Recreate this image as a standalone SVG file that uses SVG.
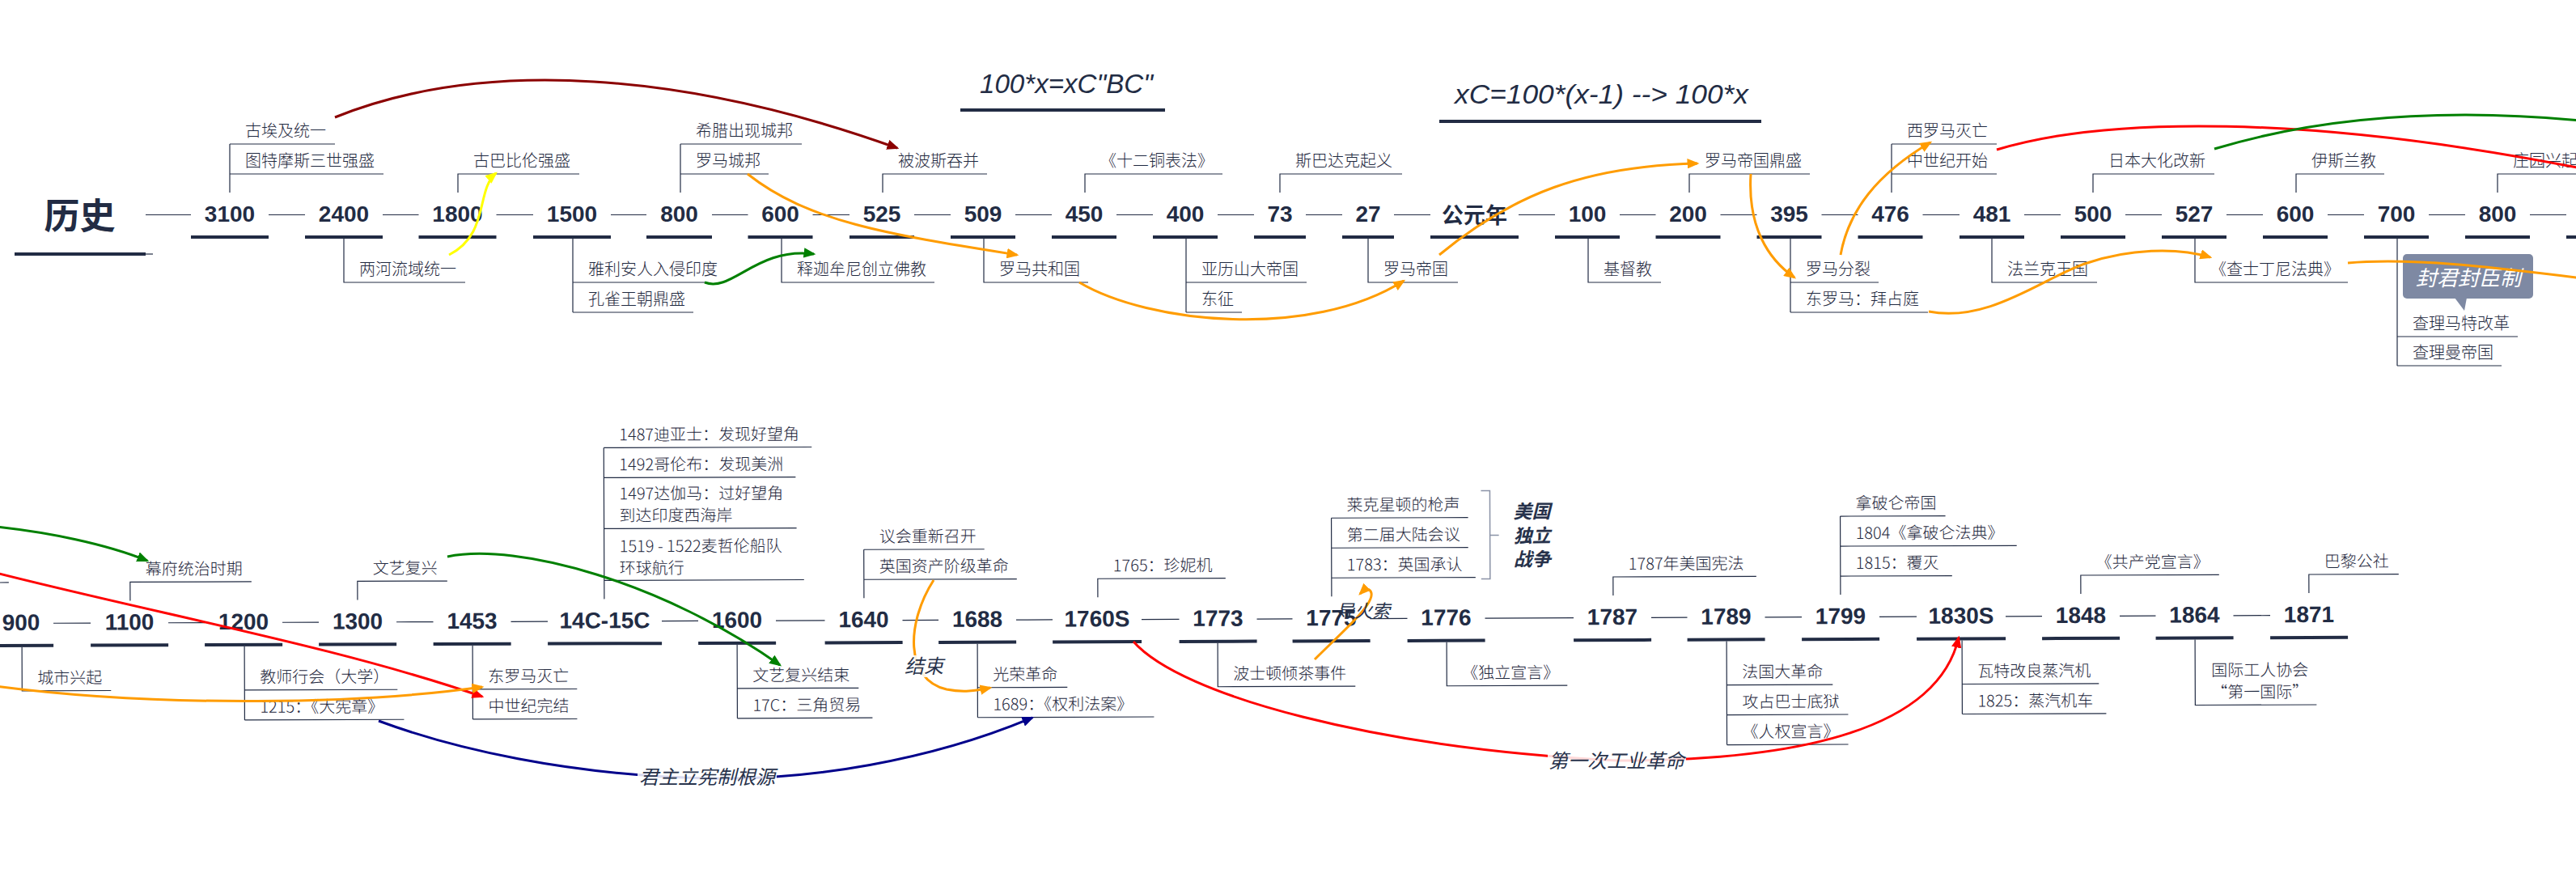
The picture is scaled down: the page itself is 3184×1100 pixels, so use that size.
<svg xmlns="http://www.w3.org/2000/svg" width="3184" height="1100" viewBox="0 0 3184 1100">
<style>
.bar{fill:#222c44}
.num{font-family:"Liberation Sans","Noto Sans CJK SC",sans-serif;font-weight:bold;font-size:28px;fill:#222c44;text-anchor:middle}
.ttl{font-family:"Noto Sans CJK SC",sans-serif;font-weight:bold;font-size:44px;fill:#222c44;text-anchor:middle}
.ln{fill:none;stroke:#222c44;stroke-width:1.2}
.lb{font-family:"Noto Sans CJK SC","Liberation Sans",sans-serif;font-weight:300;font-size:20px;fill:#1f2940}
.c{fill:none;stroke-width:3}
.cl{font-family:"Noto Sans CJK SC",sans-serif;font-style:italic;font-size:24px;fill:#27324b;text-anchor:middle}
.fx{font-family:"Liberation Sans",sans-serif;font-style:italic;font-size:34px;fill:#222c44}
.sm{font-family:"Noto Sans CJK SC",sans-serif;font-style:italic;font-weight:bold;font-size:23px;fill:#27324b}
.lbg{fill:#ffffff;opacity:0.85}
</style>
<defs>
<marker id="ao" viewBox="0 0 12 10" refX="10" refY="5" markerWidth="15" markerHeight="12.5" markerUnits="userSpaceOnUse" orient="auto"><path d="M0,0L12,5L0,10z" fill="#ff9c00"/></marker>
<marker id="ar" viewBox="0 0 12 10" refX="10" refY="5" markerWidth="15" markerHeight="12.5" markerUnits="userSpaceOnUse" orient="auto"><path d="M0,0L12,5L0,10z" fill="#ff0000"/></marker>
<marker id="ag" viewBox="0 0 12 10" refX="10" refY="5" markerWidth="15" markerHeight="12.5" markerUnits="userSpaceOnUse" orient="auto"><path d="M0,0L12,5L0,10z" fill="#008000"/></marker>
<marker id="ad" viewBox="0 0 12 10" refX="10" refY="5" markerWidth="15" markerHeight="12.5" markerUnits="userSpaceOnUse" orient="auto"><path d="M0,0L12,5L0,10z" fill="#8b0000"/></marker>
<marker id="ay" viewBox="0 0 12 10" refX="10" refY="5" markerWidth="15" markerHeight="12.5" markerUnits="userSpaceOnUse" orient="auto"><path d="M0,0L12,5L0,10z" fill="#ffff00"/></marker>
<marker id="ab" viewBox="0 0 12 10" refX="10" refY="5" markerWidth="15" markerHeight="12.5" markerUnits="userSpaceOnUse" orient="auto"><path d="M0,0L12,5L0,10z" fill="#00008b"/></marker>
</defs>
<rect width="3184" height="1100" fill="#ffffff"/>

<g id="formula1"><text class="fx" x="1211" y="115" textLength="214" lengthAdjust="spacingAndGlyphs">100*x=xC"BC"</text><rect class="bar" x="1187" y="134" width="253" height="4"/></g>
<g id="formula2"><text class="fx" x="1798" y="128" textLength="363" lengthAdjust="spacingAndGlyphs">xC=100*(x-1) --&gt; 100*x</text><rect class="bar" x="1779" y="148" width="398" height="4"/></g>

<g id="row1">
<path class="ln" d="M180,265.5H236M332,265.5H377M473,265.5H517.5M613.5,265.5H659M755,265.5H799M880,265.5H924.5M1004.5,265.5H1050M1130,265.5H1175M1255,265.5H1300M1380,265.5H1425M1505,265.5H1550M1614,265.5H1659M1723,265.5H1768M1877,265.5H1922M2002,265.5H2046.5M2126.5,265.5H2171.5M2251.5,265.5H2296.5M2376.5,265.5H2422M2502,265.5H2547M2627,265.5H2672M2752,265.5H2797M2877,265.5H2922M3002,265.5H3047M3127,265.5H3172"/>
<g id="n-root"><rect class="bar" x="18" y="312" width="162" height="4"/><path class="ln" d="M180,314H189"/><text class="ttl" x="98.5" y="283">历史</text></g>
<g id="n3100"><rect class="bar" x="236" y="291" width="96" height="4"/><text class="num" x="284" y="274">3100</text><path class="ln" d="M284,238V178M284,215H474M284,178H414"/><text class="lb" x="303" y="206">图特摩斯三世强盛</text><text class="lb" x="303" y="169">古埃及统一</text></g>
<g id="n2400"><rect class="bar" x="377" y="291" width="96" height="4"/><text class="num" x="425" y="274">2400</text><path class="ln" d="M425,295V349H575"/><text class="lb" x="444" y="340">两河流域统一</text></g>
<g id="n1800"><rect class="bar" x="517.5" y="291" width="96" height="4"/><text class="num" x="565.5" y="274">1800</text><path class="ln" d="M566,238V215H716"/><text class="lb" x="585" y="206">古巴比伦强盛</text></g>
<g id="n1500"><rect class="bar" x="659" y="291" width="96" height="4"/><text class="num" x="707" y="274">1500</text><path class="ln" d="M708,295V386M708,349H872M708,386H857"/><text class="lb" x="727" y="340">雅利安人入侵印度</text><text class="lb" x="727" y="377">孔雀王朝鼎盛</text></g>
<g id="n800bc"><rect class="bar" x="799" y="291" width="81" height="4"/><text class="num" x="839.5" y="274">800</text><path class="ln" d="M841,238V178M841,215H950M841,178H991"/><text class="lb" x="860" y="206">罗马城邦</text><text class="lb" x="860" y="169">希腊出现城邦</text></g>
<g id="n600bc"><rect class="bar" x="924.5" y="291" width="80" height="4"/><text class="num" x="964.5" y="274">600</text><path class="ln" d="M966,295V349H1155"/><text class="lb" x="985" y="340">释迦牟尼创立佛教</text></g>
<g id="n525"><rect class="bar" x="1050" y="291" width="80" height="4"/><text class="num" x="1090" y="274">525</text><path class="ln" d="M1091,238V215H1220"/><text class="lb" x="1110" y="206">被波斯吞并</text></g>
<g id="n509"><rect class="bar" x="1175" y="291" width="80" height="4"/><text class="num" x="1215" y="274">509</text><path class="ln" d="M1216,295V349H1345"/><text class="lb" x="1235" y="340">罗马共和国</text></g>
<g id="n450"><rect class="bar" x="1300" y="291" width="80" height="4"/><text class="num" x="1340" y="274">450</text><path class="ln" d="M1341,238V215H1511"/><text class="lb" x="1360" y="206">《十二铜表法》</text></g>
<g id="n400"><rect class="bar" x="1425" y="291" width="80" height="4"/><text class="num" x="1465" y="274">400</text><path class="ln" d="M1466,295V386M1466,349H1615M1466,386H1535"/><text class="lb" x="1485" y="340">亚历山大帝国</text><text class="lb" x="1485" y="377">东征</text></g>
<g id="n73"><rect class="bar" x="1550" y="291" width="64" height="4"/><text class="num" x="1582" y="274">73</text><path class="ln" d="M1582,238V215H1733"/><text class="lb" x="1601" y="206">斯巴达克起义</text></g>
<g id="n27"><rect class="bar" x="1659" y="291" width="64" height="4"/><text class="num" x="1691" y="274">27</text><path class="ln" d="M1691,295V349H1802"/><text class="lb" x="1710" y="340">罗马帝国</text></g>
<g id="n0"><rect class="bar" x="1768" y="291" width="109" height="4"/><text class="num" x="1822.5" y="276" style="font-size:27px">公元年</text></g>
<g id="n100"><rect class="bar" x="1922" y="291" width="80" height="4"/><text class="num" x="1962" y="274">100</text><path class="ln" d="M1963,295V349H2053"/><text class="lb" x="1982" y="340">基督教</text></g>
<g id="n200"><rect class="bar" x="2046.5" y="291" width="80" height="4"/><text class="num" x="2086.5" y="274">200</text><path class="ln" d="M2088,238V215H2237"/><text class="lb" x="2107" y="206">罗马帝国鼎盛</text></g>
<g id="n395"><rect class="bar" x="2171.5" y="291" width="80" height="4"/><text class="num" x="2211.5" y="274">395</text><path class="ln" d="M2213,295V386M2213,349H2322M2213,386H2383"/><text class="lb" x="2232" y="340">罗马分裂</text><text class="lb" x="2232" y="377">东罗马：拜占庭</text></g>
<g id="n476"><rect class="bar" x="2296.5" y="291" width="80" height="4"/><text class="num" x="2336.5" y="274">476</text><path class="ln" d="M2338,238V178M2338,215H2468M2338,178H2468"/><text class="lb" x="2357" y="206">中世纪开始</text><text class="lb" x="2357" y="169">西罗马灭亡</text></g>
<g id="n481"><rect class="bar" x="2422" y="291" width="80" height="4"/><text class="num" x="2462" y="274">481</text><path class="ln" d="M2462,295V349H2592"/><text class="lb" x="2481" y="340">法兰克王国</text></g>
<g id="n500"><rect class="bar" x="2547" y="291" width="80" height="4"/><text class="num" x="2587" y="274">500</text><path class="ln" d="M2587,238V215H2737"/><text class="lb" x="2606" y="206">日本大化改新</text></g>
<g id="n527"><rect class="bar" x="2672" y="291" width="80" height="4"/><text class="num" x="2712" y="274">527</text><path class="ln" d="M2713,295V349H2902"/><text class="lb" x="2732" y="340">《查士丁尼法典》</text></g>
<g id="n600ad"><rect class="bar" x="2797" y="291" width="80" height="4"/><text class="num" x="2837" y="274">600</text><path class="ln" d="M2838,238V215H2947"/><text class="lb" x="2857" y="206">伊斯兰教</text></g>
<g id="n700"><rect class="bar" x="2922" y="291" width="80" height="4"/><text class="num" x="2962" y="274">700</text><path class="ln" d="M2963,295V452M2963,416H3112M2963,452H3092"/><text class="lb" x="2982" y="407">查理马特改革</text><text class="lb" x="2982" y="443">查理曼帝国</text>
<g id="callout"><rect x="2970" y="314" width="161" height="55" rx="5" fill="#7e89a3"/><path d="M3034,368L3049,368L3046,384z" fill="#7e89a3"/><text x="3051" y="353" text-anchor="middle" font-family="Noto Sans CJK SC, sans-serif" font-style="italic" font-size="26" fill="#ffffff">封君封臣制</text></g></g>
<g id="n800ad"><rect class="bar" x="3047" y="291" width="80" height="4"/><text class="num" x="3087" y="274">800</text><path class="ln" d="M3087,238V215H3190"/><text class="lb" x="3106" y="206">庄园兴起</text></g>
<g id="n900ad"><rect class="bar" x="3172" y="291" width="20" height="4"/></g>
</g>

<g id="row2" transform="rotate(-0.2 1427 765) translate(0 500)">
<path class="ln" d="M66,265.5H112M208,265.5H253M349,265.5H394M490,265.5H535.5M631.5,265.5H677M818,265.5H863M959,265.5H1019.5M1115.5,265.5H1160M1256,265.5H1301M1411,265.5H1457.5M1553.5,265.5H1597.5M1693.5,265.5H1739.5M1835.5,265.5H1945M2041,265.5H2085.5M2181.5,265.5H2227M2323,265.5H2369M2479,265.5H2524M2620,265.5H2664.5M2760.5,265.5H2806"/>
<g id="n900"><rect class="bar" x="-14" y="291" width="80" height="4"/><text class="num" x="26" y="274">900</text><path class="ln" d="M27,295V349H137M-5,215H11"/><text class="lb" x="46" y="340">城市兴起</text></g>
<g id="n1100"><rect class="bar" x="112" y="291" width="96" height="4"/><text class="num" x="160" y="274">1100</text><path class="ln" d="M161,238V215H311"/><text class="lb" x="180" y="206">幕府统治时期</text></g>
<g id="n1200"><rect class="bar" x="253" y="291" width="96" height="4"/><text class="num" x="301" y="274">1200</text><path class="ln" d="M302,295V386M302,349H491M302,386H499"/><text class="lb" x="321" y="340">教师行会（大学）</text><text class="lb" x="321" y="377">1215：《大宪章》</text></g>
<g id="n1300"><rect class="bar" x="394" y="291" width="96" height="4"/><text class="num" x="442" y="274">1300</text><path class="ln" d="M442,238V215H553"/><text class="lb" x="461" y="206">文艺复兴</text></g>
<g id="n1453"><rect class="bar" x="535.5" y="291" width="96" height="4"/><text class="num" x="583.5" y="274">1453</text><path class="ln" d="M584,295V386M584,349H713M584,386H713"/><text class="lb" x="603" y="340">东罗马灭亡</text><text class="lb" x="603" y="377">中世纪完结</text></g>
<g id="n14c"><rect class="bar" x="677" y="291" width="141" height="4"/><text class="num" x="747.5" y="274">14C-15C</text><path class="ln" d="M747,238V51M747,215H994M747,151H985M747,88H984M747,51H1004"/><text class="lb" x="766" y="42">1487迪亚士：发现好望角</text><text class="lb" x="766" y="79">1492哥伦布：发现美洲</text><text class="lb" x="766" y="115">1497达伽马：过好望角</text><text class="lb" x="766" y="142">到达印度西海岸</text><text class="lb" x="766" y="180">1519 - 1522麦哲伦船队</text><text class="lb" x="766" y="207">环球航行</text></g>
<g id="n1600"><rect class="bar" x="863" y="291" width="96" height="4"/><text class="num" x="911" y="274">1600</text><path class="ln" d="M911,295V386M911,349H1061M911,386H1078"/><text class="lb" x="930" y="340">文艺复兴结束</text><text class="lb" x="930" y="377">17C：三角贸易</text></g>
<g id="n1640"><rect class="bar" x="1019.5" y="291" width="96" height="4"/><text class="num" x="1067.5" y="274">1640</text><path class="ln" d="M1068,238V178M1068,215H1257M1068,178H1217"/><text class="lb" x="1087" y="206">英国资产阶级革命</text><text class="lb" x="1087" y="169">议会重新召开</text></g>
<g id="n1688"><rect class="bar" x="1160" y="291" width="96" height="4"/><text class="num" x="1208" y="274">1688</text><path class="ln" d="M1208,295V386M1208,349H1319M1208,386H1426"/><text class="lb" x="1227" y="340">光荣革命</text><text class="lb" x="1227" y="377">1689：《权利法案》</text></g>
<g id="n1760s"><rect class="bar" x="1301" y="291" width="110" height="4"/><text class="num" x="1356" y="274">1760S</text><path class="ln" d="M1357,238V215H1515"/><text class="lb" x="1376" y="206">1765：珍妮机</text></g>
<g id="n1773"><rect class="bar" x="1457.5" y="291" width="96" height="4"/><text class="num" x="1505.5" y="274">1773</text><path class="ln" d="M1505,295V349H1675"/><text class="lb" x="1524" y="340">波士顿倾茶事件</text></g>
<g id="n1775"><rect class="bar" x="1597.5" y="291" width="96" height="4"/><text class="num" x="1645.5" y="274">1775</text><path class="ln" d="M1646,238V141M1646,215H1824M1646,178H1815M1646,141H1815"/><text class="lb" x="1665" y="206">1783：英国承认</text><text class="lb" x="1665" y="169">第二届大陆会议</text><text class="lb" x="1665" y="132">莱克星顿的枪声</text>
<g id="summary"><path d="M1831,108H1842V217H1831M1842,163H1853" fill="none" stroke="#8a92a6" stroke-width="1.5"/><text class="sm" x="1871" y="142">美国</text><text class="sm" x="1871" y="172">独立</text><text class="sm" x="1871" y="201">战争</text></g></g>
<g id="n1776"><rect class="bar" x="1739.5" y="291" width="96" height="4"/><text class="num" x="1787.5" y="274">1776</text><path class="ln" d="M1788,295V349H1937"/><text class="lb" x="1807" y="340">《独立宣言》</text></g>
<g id="n1787"><rect class="bar" x="1945" y="291" width="96" height="4"/><text class="num" x="1993" y="274">1787</text><path class="ln" d="M1994,238V215H2171"/><text class="lb" x="2013" y="206">1787年美国宪法</text></g>
<g id="n1789"><rect class="bar" x="2085.5" y="291" width="96" height="4"/><text class="num" x="2133.5" y="274">1789</text><path class="ln" d="M2134,295V423M2134,349H2265M2134,386H2284M2134,423H2284"/><text class="lb" x="2153" y="340">法国大革命</text><text class="lb" x="2153" y="377">攻占巴士底狱</text><text class="lb" x="2153" y="414">《人权宣言》</text></g>
<g id="n1799"><rect class="bar" x="2227" y="291" width="96" height="4"/><text class="num" x="2275" y="274">1799</text><path class="ln" d="M2275,238V141M2275,215H2413M2275,178H2493M2275,141H2405"/><text class="lb" x="2294" y="206">1815：覆灭</text><text class="lb" x="2294" y="169">1804《拿破仑法典》</text><text class="lb" x="2294" y="132">拿破仑帝国</text></g>
<g id="n1830s"><rect class="bar" x="2369" y="291" width="110" height="4"/><text class="num" x="2424" y="274">1830S</text><path class="ln" d="M2425,295V386M2425,349H2594M2425,386H2603"/><text class="lb" x="2444" y="340">瓦特改良蒸汽机</text><text class="lb" x="2444" y="377">1825：蒸汽机车</text></g>
<g id="n1848"><rect class="bar" x="2524" y="291" width="96" height="4"/><text class="num" x="2572" y="274">1848</text><path class="ln" d="M2572,238V215H2743"/><text class="lb" x="2591" y="206">《共产党宣言》</text></g>
<g id="n1864"><rect class="bar" x="2664.5" y="291" width="96" height="4"/><text class="num" x="2712.5" y="274">1864</text><path class="ln" d="M2713,295V376H2863"/><text class="lb" x="2793" y="340" text-anchor="middle">国际工人协会</text><text class="lb" x="2793" y="367" text-anchor="middle">“第一国际”</text></g>
<g id="n1871"><rect class="bar" x="2806" y="291" width="96" height="4"/><text class="num" x="2854" y="274">1871</text><path class="ln" d="M2854,238V215H2965"/><text class="lb" x="2873" y="206">巴黎公社</text></g>
</g>

<g id="connectors">
<path class="c" stroke="#8b0000" d="M414,145C600,70 850,90 1109,183" marker-end="url(#ad)"/>
<path class="c" stroke="#ffff00" stroke-width="2.5" d="M555,315C605,290 588,235 613,214" marker-end="url(#ay)"/>
<path class="c" stroke="#008000" d="M871,349C905,362 935,305 1006,314" marker-end="url(#ag)"/>
<path class="c" stroke="#ff9c00" d="M924,215C1000,275 1100,290 1257,315" marker-end="url(#ao)"/>
<path class="c" stroke="#ff9c00" d="M1334,349C1420,400 1620,420 1735,347" marker-end="url(#ao)"/>
<path class="c" stroke="#ff9c00" d="M1779,315C1870,240 1960,205 2098,202" marker-end="url(#ao)"/>
<path class="c" stroke="#ff9c00" d="M2164,215C2160,280 2185,320 2218,343" marker-end="url(#ao)"/>
<path class="c" stroke="#ff9c00" d="M2275,315C2285,260 2320,215 2386,176" marker-end="url(#ao)"/>
<path class="c" stroke="#ff9c00" d="M2384,385C2460,400 2530,340 2580,325C2630,308 2690,305 2732,318" marker-end="url(#ao)"/>
<path class="c" stroke="#ff9c00" d="M2902,325C2980,318 3080,330 3200,345"/>
<path class="c" stroke="#ff0000" d="M2468,185C2600,145 2850,140 3200,210"/>
<path class="c" stroke="#008000" d="M2737,184C2850,150 3000,130 3200,150"/>
<path class="c" stroke="#008000" d="M-5,651C60,658 130,672 182,693" marker-end="url(#ag)"/>
<path class="c" stroke="#ff0000" d="M-5,708C200,760 420,800 596,861" marker-end="url(#ar)"/>
<path class="c" stroke="#ff9c00" d="M-5,848C200,875 450,870 596,849" marker-end="url(#ao)"/>
<path class="c" stroke="#008000" d="M553,688C640,670 820,720 964,822" marker-end="url(#ag)"/>
<path class="c" stroke="#00008b" d="M468,891C560,925 700,958 874,962C1000,965 1150,940 1276,887" marker-end="url(#ab)"/>
<path class="c" stroke="#ff9c00" d="M1154,717C1120,770 1118,840 1170,852C1190,856 1205,854 1224,850" marker-end="url(#ao)"/>
<path class="c" stroke="#ff0000" d="M1401,793C1460,860 1700,925 2000,940C2230,940 2395,900 2421,788" marker-end="url(#ar)"/>
<path class="c" stroke="#ff9c00" stroke-width="2.5" d="M1625,815C1660,780 1698,748 1695,733C1693,726 1687,728 1681,734" marker-end="url(#ao)"/>
<g id="clabels">
<rect class="lbg" x="788" y="946" width="172" height="28"/><text class="cl" x="874" y="969">君主立宪制根源</text>
<rect class="lbg" x="1913" y="926" width="171" height="28"/><text class="cl" x="1998" y="949">第一次工业革命</text>
<rect class="lbg" x="1115" y="810" width="55" height="27"/><text class="cl" x="1142" y="832">结束</text>
<text class="cl" x="1685" y="763" style="font-size:22px">导火索</text>
</g>
</g>
</svg>
